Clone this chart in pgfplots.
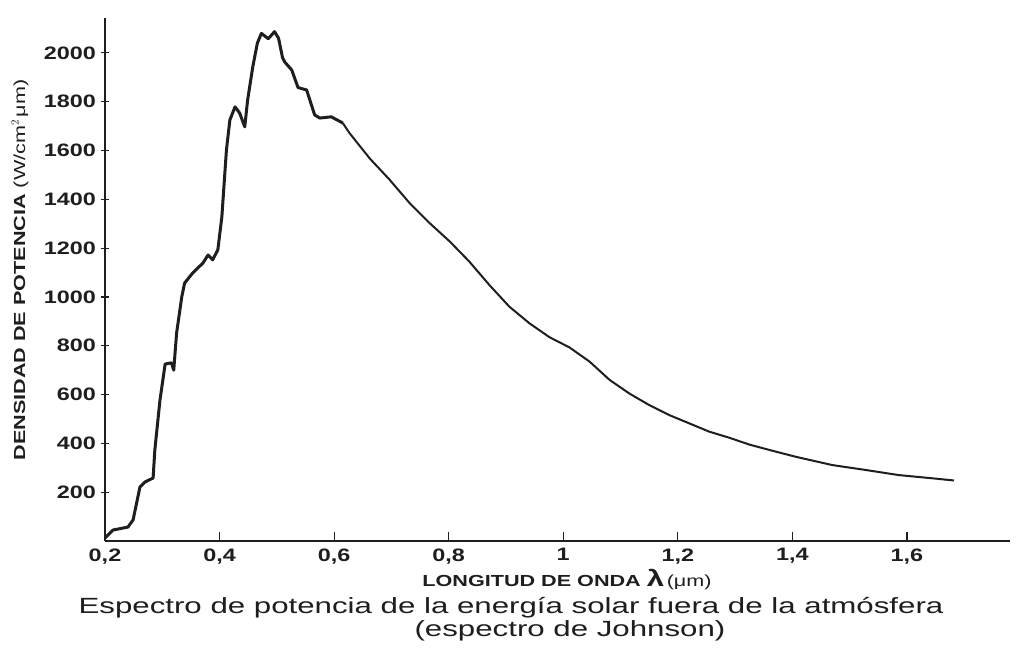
\documentclass[border=0pt]{standalone}
\usepackage{fontspec}
\setmainfont{Liberation Sans}
\newfontfamily\wide{Liberation Sans}[FakeStretch=1.3]
\newfontfamily\widecap{Liberation Sans}[FakeStretch=1.35]
\newfontfamily\capfont{Liberation Sans}[FakeStretch=1.42]
\usepackage{pgfplots}
\pgfplotsset{compat=1.18}
\definecolor{ink}{HTML}{1E1E1E}
\pgfplotstableread{
x y
0.200 12
0.214 45
0.240 57
0.249 86
0.261 221
0.270 242
0.284 258
0.287 373
0.296 578
0.305 725
0.316 730
0.320 700
0.325 852
0.334 1000
0.339 1057
0.353 1098
0.371 1139
0.380 1172
0.388 1152
0.397 1193
0.404 1328
0.412 1602
0.418 1725
0.427 1779
0.435 1754
0.444 1697
0.449 1807
0.458 1943
0.466 2040
0.473 2080
0.485 2058
0.496 2087
0.503 2060
0.510 1980
0.514 1962
0.526 1930
0.537 1858
0.552 1848
0.566 1746
0.575 1733
0.595 1738
0.615 1713
}\peak
\pgfplotstableread{
x y
0.615 1713
0.627 1671
0.662 1568
0.697 1480
0.732 1384
0.767 1302
0.802 1227
0.836 1145
0.871 1049
0.906 960
0.941 892
0.976 835
1.011 793
1.046 735
1.081 660
1.115 605
1.150 557
1.185 516
1.220 482
1.255 448
1.290 423
1.325 395
1.360 373
1.406 345
1.470 311
1.528 291
1.586 270
1.644 257
1.682 248
}\tail
\begin{document}
\begin{tikzpicture}[x=1pt,y=1pt]
\useasboundingbox (0,0) rectangle (1017,668);
\fill[white] (0,0) rectangle (1017,668);
\begin{axis}[
  at={(105pt,127pt)}, anchor=south west,
  scale only axis, width=905pt, height=523pt,
  xmin=0.2, xmax=1.78, ymin=0, ymax=2143,
  axis x line*=bottom, axis y line*=left,
  axis line style={line width=1.2pt, ink},
  xtick={0.2,0.4,0.6,0.8,1,1.2,1.4,1.6},
  xticklabels={{0,2},{0,4},{0,6},{0,8},1,{1,2},{1,4},{1,6}},
  ytick={200,400,600,800,1000,1200,1400,1600,1800,2000},
  yticklabels={200,400,600,800,1000,1200,1400,1600,1800,2000},
  major tick length=9pt,
  tick style={line width=1.2pt, ink},
  ytick align=center, xtick align=inside,
  ticklabel style={font=\wide\bfseries\fontsize{18}{18}\selectfont, text=ink},
  xticklabel style={yshift=-4pt},
  yticklabel style={xshift=-1pt},
  clip=false,
]
\addplot[ink, line width=3pt, line join=round] table[x=x,y=y]{\peak};
\addplot[ink, line width=2pt, line join=round] table[x=x,y=y]{\tail};
\end{axis}
\node[rotate=90, text=ink, font=\widecap\bfseries\fontsize{16}{16}\selectfont] at (20,398) {DENSIDAD DE POTENCIA {\mdseries(W/cm$^{2}$\,μm)}};
\node[text=ink, font=\widecap\bfseries\fontsize{16}{16}\selectfont] at (567,88) {LONGITUD DE ONDA {\fontsize{23}{23}\selectfont λ}\,{\mdseries(μm)}};
\node[text=ink, font=\capfont\fontsize{22}{22}\selectfont] at (511,60) {Espectro de potencia de la energía solar fuera de la atmósfera};
\node[text=ink, font=\capfont\fontsize{22}{22}\selectfont] at (570,37) {(espectro de Johnson)};
\end{tikzpicture}
\end{document}
